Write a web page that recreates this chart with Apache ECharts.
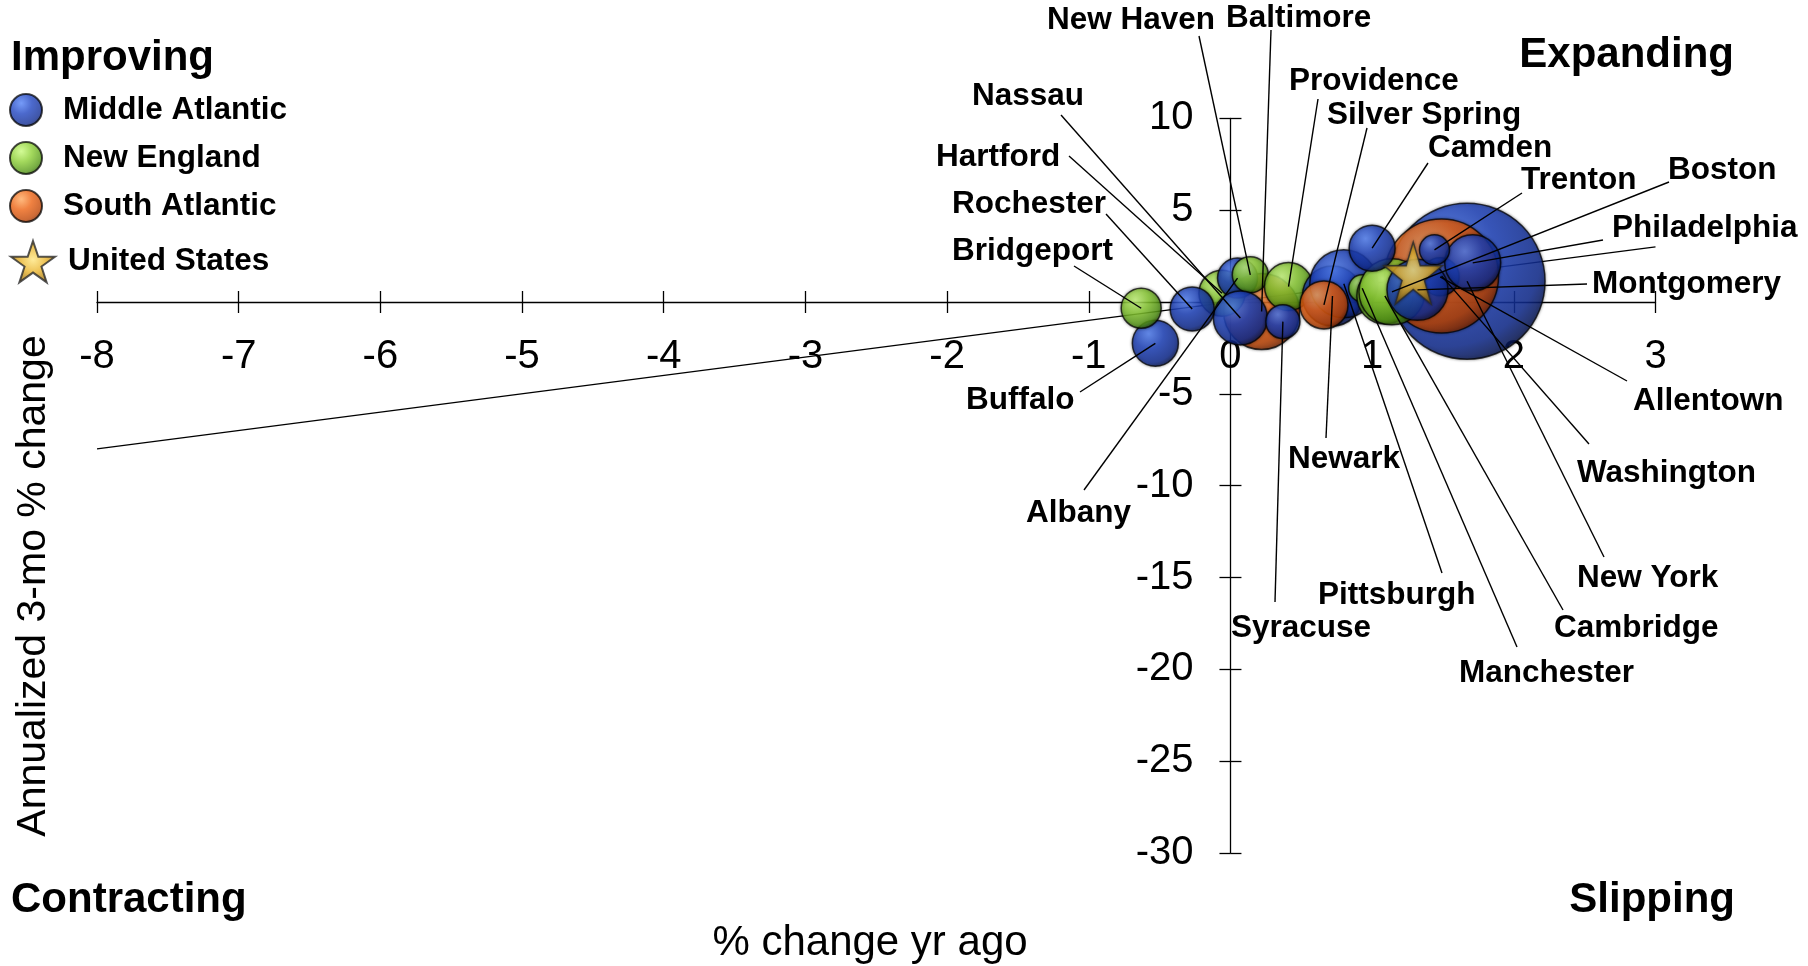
<!DOCTYPE html>
<html><head><meta charset="utf-8">
<script src="https://cdn.jsdelivr.net/npm/echarts@6/dist/echarts.min.js"></script>
<style>html,body{margin:0;padding:0;background:#fff}#c{width:1808px;height:966px}</style>
</head><body><div id="c"></div>
<script>
// ---------------- DATA ----------------
const cities = ['Baltimore','Hartford','Albany','New Haven','Nassau','Buffalo','Bridgeport','Rochester',
  'Providence','Syracuse','Newark','Pittsburgh','Silver Spring','Manchester','New York','Washington',
  'Cambridge','Boston','Camden','Allentown','Montgomery','Philadelphia','Trenton'];
const regions = ['South Atlantic','New England','Middle Atlantic','New England','Middle Atlantic','Middle Atlantic','New England','Middle Atlantic',
  'New England','Middle Atlantic','Middle Atlantic','Middle Atlantic','South Atlantic','New England','Middle Atlantic','South Atlantic',
  'New England','New England','Middle Atlantic','Middle Atlantic','Middle Atlantic','Middle Atlantic','Middle Atlantic'];
const pctYrAgo = [0.22,-0.06,0.05,0.14,0.07,-0.53,-0.63,-0.27,
  0.41,0.37,0.72,0.80,0.66,0.93,1.67,1.49,
  1.09,1.14,1.00,1.48,1.32,1.71,1.44];
const ann3Mo = [-0.52,0.48,1.30,1.48,-0.87,-2.25,-0.34,-0.38,
  0.84,-1.07,0.33,0.99,-0.16,0.75,1.13,1.42,
  0.33,0.55,2.93,1.37,0.66,2.13,2.84];
const employment = [1444,529,400,324,729,529,400,484,
  576,289,900,1156,576,182,6084,3249,
  784,1089,529,361,930,784,225];
const usName = 'United States';
const usPctYrAgo = 1.29;
const usAnn3Mo = 1.57;
const refLine = [[-8,-8],[3,3]];
const regionNames = ['Middle Atlantic','New England','South Atlantic'];
const xAxisTitle = '% change yr ago';
const yAxisTitle = 'Annualized 3-mo % change';
const quadrants = ['Improving','Expanding','Contracting','Slipping'];

// ---------------- LAYOUT (label placement, px) ----------------
const labelSpots = {
  'New Haven':[1047,20,1199,36],'Baltimore':[1226,18,1271,30],'Providence':[1289,81,1318,99],
  'Silver Spring':[1327,115,1367,128],'Camden':[1428,148,1428,163],'Trenton':[1521,180,1522,193],
  'Boston':[1668,170,1669,182],'Philadelphia':[1612,228,1603,240],'Montgomery':[1592,284,1587,284],
  'Allentown':[1633,401,1627,381],'Washington':[1577,473,1589,444],'New York':[1577,578,1604,557],
  'Cambridge':[1554,628,1563,610],'Manchester':[1459,673,1517,647],'Pittsburgh':[1318,595,1442,573],
  'Syracuse':[1231,628,1275,602],'Newark':[1288,459,1326,438],'Albany':[1026,513,1084,490],
  'Buffalo':[966,400,1080,392],'Bridgeport':[952,251,1074,266],'Rochester':[952,204,1106,214],
  'Hartford':[936,157,1069,156],'Nassau':[972,96,1061,115]
};
const G = {left:97,right:152.5,top:118.3,bottom:113,W:1808,H:966};

// ---------------- STYLE ----------------
const FONT = "'Liberation Sans', Arial, Helvetica, sans-serif";
function ball(c0,c1,c2,c3){
  return {type:'radial',x:0.36,y:0.3,r:0.75,colorStops:[
    {offset:0,color:c0},{offset:0.42,color:c1},{offset:0.82,color:c2},{offset:1,color:c3}]};
}
const regionFill = {
  'Middle Atlantic': ball('#5382f7','#1f44c0','#112d94','#07144a'),
  'New England': ball('#c8fa7c','#8ccf34','#559816','#2f5a08'),
  'South Atlantic': ball('#ffa85e','#ec6212','#c04504','#7a2600')
};
const goldFill = {type:'radial',x:0.5,y:0.45,r:0.6,colorStops:[
  {offset:0,color:'#ffe680'},{offset:0.5,color:'#e8b22a'},{offset:1,color:'#8f6408'}]};
const starPath = 'path://M50,0L61.8,35.1L98.9,35.1L68.8,56.8L80.3,91.9L50,70.2L19.7,91.9L31.2,56.8L1.1,35.1L38.2,35.1Z';
const bubbleBase = {borderColor:'rgba(0,0,0,0.9)',borderWidth:1.5,shadowBlur:3,shadowColor:'rgba(0,0,0,0.5)'};

const chart = echarts.init(document.getElementById('c'), null, {renderer:'canvas'});

const xMin=-8,xMax=3,yMin=-30,yMax=10;
const gw = G.W-G.left-G.right, gh = G.H-G.top-G.bottom;
const zeroX = G.left + gw*(0-xMin)/(xMax-xMin);
const zeroY = G.top + gh*(yMax-0)/(yMax-yMin);

const axisCommonX = {type:'value',min:xMin,max:xMax,interval:1,splitLine:{show:false}};
const axisCommonY = {type:'value',min:yMin,max:yMax,interval:5,splitLine:{show:false}};
const tickStyle = {color:'#000',width:1.3};

const option = {
  animation:false,
  backgroundColor:'#fff',
  textStyle:{fontFamily:FONT},
  grid:{left:G.left,right:G.right,top:G.top,bottom:G.bottom},
  xAxis:[
    Object.assign({},axisCommonX,{position:'bottom',offset:-(G.H-G.bottom-zeroY),
      axisLine:{show:true,onZero:false,lineStyle:tickStyle},
      axisTick:{show:true,length:11,lineStyle:tickStyle},
      axisLabel:{fontSize:40,color:'#000',margin:35,fontFamily:FONT}}),
    Object.assign({},axisCommonX,{position:'top',offset:-(zeroY-G.top),
      axisLine:{show:false,onZero:false},
      axisTick:{show:true,length:11,lineStyle:tickStyle},
      axisLabel:{show:false}})
  ],
  yAxis:[
    Object.assign({},axisCommonY,{position:'left',offset:-(zeroX-G.left),
      axisLine:{show:true,onZero:false,lineStyle:tickStyle},
      axisTick:{show:true,length:11,lineStyle:tickStyle},
      axisLabel:{fontSize:40,color:'#000',margin:37,fontFamily:FONT,
        formatter:v=>v===0?'':String(v)}}),
    Object.assign({},axisCommonY,{position:'right',offset:-(G.W-G.right-zeroX),
      axisLine:{show:false,onZero:false},
      axisTick:{show:true,length:11,lineStyle:tickStyle},
      axisLabel:{show:false}})
  ],
  legend:[
    {data:regionNames,orient:'vertical',left:9,top:93,itemWidth:32,itemHeight:32,itemGap:14,
     icon:'circle',selectedMode:false,padding:0,
     textStyle:{fontSize:31.5,fontWeight:'bold',color:'#000',fontFamily:FONT,lineHeight:32,padding:[0,0,0,16]}},
    {data:[{name:usName,icon:starPath}],orient:'vertical',left:10,top:240,itemWidth:44,itemHeight:50,
     selectedMode:false,padding:0,
     textStyle:{fontSize:31.5,fontWeight:'bold',color:'#000',fontFamily:FONT,padding:[0,0,0,8]}}
  ],
  graphic:[
    {type:'text',x:11,y:58,style:{text:quadrants[0],font:'bold 42px '+FONT,fill:'#000',textAlign:'left',textVerticalAlign:'middle',align:'left',verticalAlign:'middle'}},
    {type:'text',x:1734,y:55,style:{text:quadrants[1],font:'bold 42px '+FONT,fill:'#000',textAlign:'right',textVerticalAlign:'middle',align:'right',verticalAlign:'middle'}},
    {type:'text',x:11,y:900,style:{text:quadrants[2],font:'bold 42px '+FONT,fill:'#000',textAlign:'left',textVerticalAlign:'middle',align:'left',verticalAlign:'middle'}},
    {type:'text',x:1735,y:900,style:{text:quadrants[3],font:'bold 42px '+FONT,fill:'#000',textAlign:'right',textVerticalAlign:'middle',align:'right',verticalAlign:'middle'}},
    {type:'text',x:870,y:943,style:{text:xAxisTitle,font:'42px '+FONT,fill:'#000',textAlign:'center',textVerticalAlign:'middle',align:'center',verticalAlign:'middle'}},
    {type:'text',x:34,y:586,rotation:Math.PI/2,style:{text:yAxisTitle,font:'41px '+FONT,fill:'#000',textAlign:'center',textVerticalAlign:'middle',align:'center',verticalAlign:'middle'}}
  ],
  series:[
    {type:'line',data:refLine,symbol:'none',silent:true,z:1,
     lineStyle:{color:'#000',width:1.4}},
    {type:'scatter',name:'bubbles',z:2,silent:true,
     data:cities.map((n,i)=>({name:n,value:[pctYrAgo[i],ann3Mo[i]],
       itemStyle:Object.assign({color:regionFill[regions[i]]},bubbleBase)})),
     symbolSize:(v,p)=>2*Math.sqrt(employment[p.dataIndex])},
    ...regionNames.map(r=>({type:'scatter',name:r,data:[],
      itemStyle:Object.assign({color:regionFill[r]},bubbleBase)})),
    {type:'scatter',name:usName,z:3,silent:true,data:[[usPctYrAgo,usAnn3Mo]],
     symbol:starPath,symbolSize:[58,62],
     itemStyle:{color:goldFill,borderColor:'#2a2a2a',borderWidth:1.5,shadowBlur:3,shadowColor:'rgba(0,0,0,0.5)'}},
    {type:'custom',name:'labels',z:4,clip:false,silent:true,
     data:cities.map((n,i)=>[pctYrAgo[i],ann3Mo[i]]),
     renderItem:function(params,api){
       const name = cities[params.dataIndex];
       const s = labelSpots[name];
       const c = api.coord([api.value(0),api.value(1)]);
       return {type:'group',children:[
         {type:'line',shape:{x1:c[0],y1:c[1],x2:s[2],y2:s[3]},style:{stroke:'#000',lineWidth:1.4}},
         {type:'text',style:{text:name,x:s[0],y:s[1],font:'bold 31.5px '+FONT,fill:'#000',
           textAlign:'left',textVerticalAlign:'middle',align:'left',verticalAlign:'middle'}}
       ]};
     }}
  ]
};
chart.setOption(option);
</script></body></html>
